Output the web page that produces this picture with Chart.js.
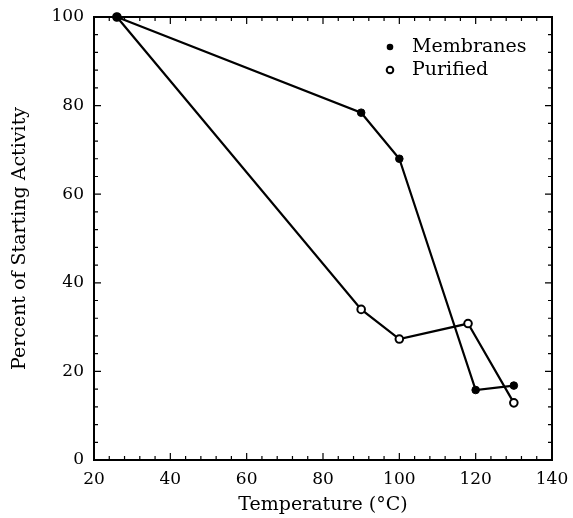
<!DOCTYPE html>
<html>
<head>
<meta charset="utf-8">
<script src="https://cdn.jsdelivr.net/npm/chart.js@4"></script>
<style>
  html, body { margin: 0; padding: 0; background: #fff; }
  #wrap { width: 573px; height: 518px; }
</style>
</head>
<body>
<div id="wrap"><canvas id="myChart"></canvas></div>
<script>
// data
const membranesTemp = [26, 90, 100, 120, 130];
const membranesAct = [100, 78.4, 68, 15.8, 16.8];
const purifiedTemp = [26, 90, 100, 118, 130];
const purifiedAct = [100, 34, 27.3, 30.8, 12.9];
const xTicks = [20, 40, 60, 80, 100, 120, 140];
const yTicks = [0, 20, 40, 60, 80, 100];

const serif = "'DejaVu Serif', 'Liberation Serif', serif";

function toPoints(xs, ys) {
  return xs.map((x, i) => ({ x: x, y: ys[i] }));
}

// inward ticks on all four sides + frame, legend inside the plot
const frame = {
  id: "frame",
  beforeDatasetsDraw(chart) {
    const c = chart.ctx;
    const a = chart.chartArea;
    const xs = chart.scales.x;
    const ys = chart.scales.y;
    c.save();
    c.strokeStyle = "#000";
    c.lineWidth = 2;
    c.strokeRect(a.left, a.top, a.right - a.left, a.bottom - a.top);
    c.lineWidth = 1.2;
    c.beginPath();
    for (let v = 20; v <= 140; v += 4) {
      const px = xs.getPixelForValue(v);
      const len = (v % 20 === 0) ? 7 : 4;
      c.moveTo(px, a.bottom); c.lineTo(px, a.bottom - len);
      c.moveTo(px, a.top); c.lineTo(px, a.top + len);
    }
    for (let v = 0; v <= 100; v += 4) {
      const py = ys.getPixelForValue(v);
      const len = (v % 20 === 0) ? 7 : 4;
      c.moveTo(a.left, py); c.lineTo(a.left + len, py);
      c.moveTo(a.right, py); c.lineTo(a.right - len, py);
    }
    c.stroke();

    // legend
    c.font = "19px " + serif;
    c.fillStyle = "#000";
    c.textBaseline = "middle";
    chart.data.datasets.forEach((ds, i) => {
      const y = 47 + i * 23;
      c.beginPath();
      c.arc(390, y, 3.3, 0, Math.PI * 2);
      if (i === 0) { c.fill(); } else { c.lineWidth = 2; c.stroke(); }
      c.fillText(ds.label, 412, y);
    });
    c.restore();
  }
};

new Chart(document.getElementById("myChart"), {
  type: "scatter",
  data: {
    datasets: [
      {
        label: "Membranes",
        data: toPoints(membranesTemp, membranesAct),
        showLine: true,
        clip: false,
        borderColor: "#000",
        borderWidth: 2.2,
        pointBackgroundColor: "#000",
        pointBorderColor: "#000",
        pointRadius: 3.8,
        pointBorderWidth: 1,
      },
      {
        label: "Purified",
        data: toPoints(purifiedTemp, purifiedAct),
        showLine: true,
        clip: false,
        borderColor: "#000",
        borderWidth: 2.2,
        pointBackgroundColor: "#fff",
        pointBorderColor: "#000",
        pointRadius: 3.8,
        pointBorderWidth: 2,
      },
    ],
  },
  options: {
    responsive: true,
    maintainAspectRatio: false,
    animation: false,
    layout: { autoPadding: false, padding: { left: 9, right: 21, top: 17, bottom: 2 } },
    plugins: {
      legend: { display: false },
      tooltip: { enabled: false },
    },
    scales: {
      x: {
        type: "linear",
        min: 20,
        max: 140,
        afterBuildTicks(s) { s.ticks = xTicks.map(v => ({ value: v })); },
        afterFit(s) { s.height = 56; s.paddingLeft = 0; s.paddingRight = 0; },
        grid: { display: false, drawTicks: false },
        border: { display: false },
        ticks: { color: "#000", font: { family: serif, size: 17 }, padding: 9 },
        title: {
          display: true,
          text: "Temperature (°C)",
          color: "#000",
          font: { family: serif, size: 19 },
          padding: { top: 6, bottom: 0 },
        },
      },
      y: {
        type: "linear",
        min: 0,
        max: 100,
        afterBuildTicks(s) { s.ticks = yTicks.map(v => ({ value: v })); },
        afterFit(s) { s.width = 85; s.paddingTop = 0; s.paddingBottom = 0; },
        grid: { display: false, drawTicks: false },
        border: { display: false },
        ticks: { color: "#000", font: { family: serif, size: 17 }, padding: 10 },
        title: {
          display: true,
          text: "Percent of Starting Activity",
          color: "#000",
          font: { family: serif, size: 19 },
          padding: { top: 0, bottom: 4 },
        },
      },
    },
  },
  plugins: [frame],
});
</script>
</body>
</html>
